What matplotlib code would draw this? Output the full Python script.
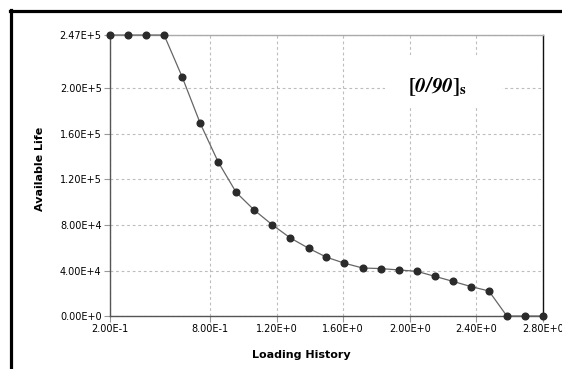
import matplotlib
matplotlib.use('Agg')
import matplotlib.pyplot as plt
import numpy as np
from matplotlib.lines import Line2D
from matplotlib.patches import Rectangle

# loading history steps and remaining life
loading = [0.2, 0.308, 0.417, 0.525, 0.633, 0.742, 0.85, 0.958, 1.067, 1.175,
           1.283, 1.392, 1.5, 1.608, 1.717, 1.825, 1.933, 2.042, 2.15, 2.258,
           2.367, 2.475, 2.583, 2.692, 2.8]
life = [247000, 247000, 247000, 247000, 210300, 169300, 135300, 108600, 93000, 80100,
        68600, 59600, 51700, 46400, 42200, 41700, 40500, 39300, 34900, 30500,
        25900, 22000, 0, 0, 0]

x_ticks = [0.2, 0.8, 1.2, 1.6, 2.0, 2.4, 2.8]
x_tick_labels = ['2.00E-1', '8.00E-1', '1.20E+0', '1.60E+0', '2.00E+0', '2.40E+0', '2.80E+0']
y_ticks = [0, 40000, 80000, 120000, 160000, 200000, 247000]
y_tick_labels = ['0.00E+0', '4.00E+4', '8.00E+4', '1.20E+5', '1.60E+5', '2.00E+5', '2.47E+5']

fig = plt.figure(figsize=(5.62, 3.69), dpi=100)
ax = fig.add_axes([0.1957, 0.1436, 0.7705, 0.7615])

ax.plot(loading, life, color='#666666', linewidth=0.9, marker='o', markersize=4.8,
        markerfacecolor='#2b2b2b', markeredgecolor='#2b2b2b', zorder=3, clip_on=False)

ax.set_xlim(0.2, 2.8)
ax.set_ylim(0, 247000)
ax.set_xticks(x_ticks)
ax.set_xticklabels(x_tick_labels)
ax.set_yticks(y_ticks)
ax.set_yticklabels(y_tick_labels)
ax.tick_params(axis='both', labelsize=7, length=4, width=0.8, color='#999999', pad=2)

ax.set_axisbelow(True)
ax.grid(True, color='#bdbdbd', linestyle=(0, (2.5, 2.5)), linewidth=0.8)

for side, col in [('left', '#555555'), ('bottom', '#555555'), ('top', '#aaaaaa'), ('right', '#111111')]:
    ax.spines[side].set_color(col)
    ax.spines[side].set_linewidth(1.0)

ax.set_xlabel('Loading History', fontsize=8, fontweight='bold')
ax.set_ylabel('Available Life', fontsize=8, fontweight='bold')
ax.xaxis.set_label_coords(0.443, -0.122)
ax.yaxis.set_label_coords(-0.150, 0.523)

# white box behind the layup label
ax.add_patch(Rectangle((0.635, 0.744), 0.27, 0.185, transform=ax.transAxes,
                       facecolor='white', edgecolor='none', zorder=1))
plt.rcParams['mathtext.fontset'] = 'stix'
ax.text(0.756, 0.815, r'$\mathbf{[}\mathbfit{0/90}\mathbf{]}_{\mathbf{s}}$',
        transform=ax.transAxes, fontsize=15, ha='center', va='center', zorder=2)

# thick frame lines of the original picture
fig.add_artist(Line2D([0.0178, 1.0], [0.970, 0.970], transform=fig.transFigure,
                      color='black', linewidth=2.3))
fig.add_artist(Line2D([0.0196, 0.0196], [0.0, 0.972], transform=fig.transFigure,
                      color='black', linewidth=2.3))

fig.savefig('out.png', dpi=100)
